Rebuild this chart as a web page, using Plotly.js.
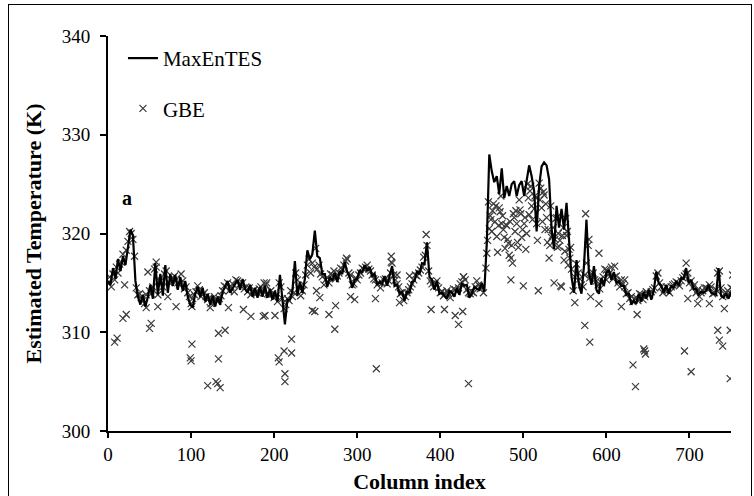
<!DOCTYPE html>
<html>
<head>
<meta charset="utf-8">
<script src="https://cdn.plot.ly/plotly-3.0.1.min.js"></script>
<style>
  html, body { margin: 0; padding: 0; background: #fff; overflow: hidden; }
  #chart { width: 754px; height: 496px; }
  #frame { position: absolute; left: 8px; top: 4px; width: 742px; height: 520px;
           border: 1.5px solid #000; pointer-events: none; }
</style>
</head>
<body>
<div id="chart"></div>
<div id="frame"></div>
<script>
// MaxEnTES estimate, one value every 3 columns starting at column 0
const maxentesStep = 3;
const maxentesK = [
  315.2, 314.8, 316.5, 315.4, 317.4, 316.2, 317.7, 316.8, 318.6, 320.4, 319.8, 315.2, 313.6, 312.8, 313.8, 312.6, 313.6, 314.8, 313.4, 317.0,
  313.8, 315.9, 313.7, 316.8, 314.0, 315.9, 314.7, 315.8, 314.3, 315.6, 314.2, 315.2, 313.6, 312.8, 312.5, 313.9, 314.6, 313.6, 314.5, 313.1,
  313.9, 312.8, 313.7, 312.6, 313.6, 312.8, 314.1, 314.7, 315.2, 314.0, 314.4, 314.9, 315.3, 314.3, 315.4, 314.4, 314.0, 314.8, 313.6, 314.5,
  313.5, 314.6, 313.6, 314.7, 313.5, 314.4, 313.3, 314.2, 313.1, 315.8, 312.9, 310.8, 313.3, 313.3, 314.2, 317.2, 313.7, 315.1, 314.0, 315.4,
  318.3, 317.4, 317.9, 320.3, 317.7, 317.5, 315.9, 315.9, 314.6, 315.6, 315.2, 316.0, 315.1, 316.2, 315.9, 317.1, 316.1, 315.6, 314.5, 315.3,
  315.4, 316.3, 316.0, 316.8, 316.2, 316.6, 315.7, 315.9, 314.8, 315.1, 314.9, 315.7, 314.7, 315.7, 316.7, 314.7, 314.8, 313.9, 314.1, 313.2,
  314.1, 314.0, 315.1, 315.2, 316.2, 315.9, 317.0, 316.9, 319.1, 315.6, 315.3, 314.3, 315.2, 313.9, 314.0, 313.7, 313.4, 314.2, 314.0, 313.6,
  314.5, 313.8, 314.9, 314.7, 314.8, 313.5, 313.9, 314.6, 314.4, 314.3, 315.0, 314.1, 319.0, 328.0, 326.3, 325.2, 325.8, 324.0, 326.6, 323.6,
  324.8, 323.8, 325.0, 325.3, 323.8, 324.9, 325.3, 323.8, 325.6, 326.9, 325.8, 324.3, 320.2, 324.8, 326.8, 327.2, 326.9, 325.5, 320.5, 318.4,
  322.8, 320.6, 322.5, 320.4, 323.1, 319.4, 315.6, 314.0, 317.3, 314.8, 313.9, 316.7, 321.4, 316.0, 314.8, 316.7, 314.3, 313.9, 315.5, 314.7,
  316.0, 316.3, 315.3, 316.1, 315.0, 315.2, 314.7, 314.7, 313.8, 313.9, 312.8, 313.2, 312.9, 313.9, 313.1, 314.1, 313.4, 314.3, 313.3, 314.2,
  316.1, 315.0, 314.7, 314.0, 314.8, 313.9, 314.7, 314.5, 315.2, 314.7, 315.5, 315.4, 316.5, 315.0, 315.3, 314.4, 314.4, 313.8, 314.1, 314.0,
  314.2, 314.8, 314.0, 313.9, 313.8, 316.5, 313.7, 313.5, 313.9, 313.4, 314.1
];
const maxentesCol = maxentesK.map((_, i) => i * maxentesStep);

// GBE estimate, points close to the MaxEnTES curve (left part)
const gbeNearCol = [
  0, 4, 8, 12, 16, 20, 24, 28, 32, 36, 40, 44, 48, 52, 56, 60, 64, 68, 72, 76,
  80, 84, 88, 92, 96, 100, 104, 108, 112, 116, 120, 124, 128, 132, 136, 140, 144, 148, 152, 156,
  160, 164, 168, 172, 176, 180, 184, 188, 192, 196, 200, 204, 208, 212, 216, 220, 224, 228, 232, 236,
  240, 244, 248, 252, 256, 260, 264, 268, 272, 276, 280, 284, 288, 292, 296, 300, 304, 308, 312, 316,
  320, 324, 328, 332, 336, 340, 344, 348, 352, 356, 360, 364, 368, 372, 376, 380, 384, 388, 392, 396,
  400, 404, 408, 412, 416, 420, 424, 428, 432, 436, 440, 444, 448, 452, 455, 456
];
const gbeNearK = [
  315.0, 314.6, 315.3, 316.0, 317.1, 314.8, 319.2, 320.0, 317.7, 313.8, 313.5, 312.9, 316.1, 313.9, 316.4, 313.8, 315.2, 315.9, 313.6, 315.3,
  315.7, 315.0, 315.9, 314.4, 314.0, 312.9, 313.8, 314.7, 313.6, 314.0, 313.3, 312.9, 313.6, 313.1, 313.7, 314.7, 315.0, 314.6, 314.1, 315.2,
  314.9, 314.4, 314.1, 313.8, 314.3, 314.0, 314.6, 315.0, 313.9, 314.2, 313.5, 313.1, 314.6, 312.4, 313.4, 314.2, 314.0, 315.3, 313.7, 314.8,
  316.8, 316.0, 316.6, 316.4, 315.9, 314.8, 315.5, 315.9, 316.2, 315.7, 316.5, 316.8, 317.4, 315.8, 314.9, 315.3, 316.0, 316.4, 316.8, 316.2,
  315.4, 314.8, 314.5, 315.3, 314.9, 316.0, 315.8, 314.9, 313.9, 313.2, 314.0, 314.6, 315.3, 315.7, 316.3, 317.6, 318.8, 315.2, 314.6, 315.2,
  314.0, 313.7, 314.2, 313.5, 314.4, 314.1, 314.9, 315.6, 314.3, 313.9, 314.0, 315.2, 314.4, 314.0, 316.5, 318.0
];
const gbeNear2Col = [
  2, 6, 10, 14, 18, 22, 26, 30, 34, 38, 42, 46, 50, 54, 58, 62, 66, 70, 74, 78,
  82, 86, 90, 94, 98, 102, 106, 110, 114, 118, 122, 126, 130, 134, 138, 142, 146, 150, 154, 158,
  162, 166, 170, 174, 178, 182, 186, 190, 194, 198, 202, 206, 210, 214, 218, 222, 226, 230, 234, 238,
  242, 246, 250, 254, 258, 262, 266, 270, 274, 278, 282, 286, 290, 294, 298, 302, 306, 310, 314, 318,
  322, 326, 330, 334, 338, 342, 346, 350, 354, 358, 362, 366, 370, 374, 378, 382, 386, 390, 394, 398,
  402, 406, 410, 414, 418, 422, 426, 430, 434, 438, 442, 446, 450
];
const gbeNear2K = [
  315.6, 315.9, 316.6, 316.9, 317.9, 318.3, 320.2, 319.4, 314.5, 313.9, 313.2, 313.8, 314.2, 314.6, 316.6, 315.2, 314.6, 316.2, 315.0, 315.5,
  315.3, 314.8, 315.2, 314.6, 313.6, 313.4, 314.1, 314.3, 313.8, 313.6, 313.5, 313.0, 313.3, 313.4, 314.2, 314.6, 314.2, 314.9, 315.3, 314.8,
  315.0, 314.6, 314.5, 314.1, 314.0, 314.4, 314.2, 314.8, 313.8, 313.9, 313.7, 315.0, 313.4, 312.8, 313.2, 313.6, 316.0, 314.5, 314.2, 315.8,
  317.4, 317.0, 318.5, 316.8, 315.6, 315.3, 315.0, 315.8, 315.4, 316.0, 316.4, 317.2, 316.0, 314.8, 315.5, 315.8, 316.5, 316.6, 316.4, 315.8,
  315.3, 315.0, 315.0, 315.4, 315.2, 317.0, 315.3, 314.6, 314.0, 313.6, 314.3, 314.9, 315.8, 316.0, 316.6, 317.8, 316.2, 314.9, 315.0, 314.5,
  314.1, 313.9, 313.9, 314.0, 314.3, 314.5, 315.1, 315.3, 314.0, 314.1, 314.6, 314.8, 314.5
];

// GBE estimate over the warm block (columns ~455-560)
const gbeWarmCol = [
  457, 458, 459, 463, 466, 468, 469, 473, 475, 476, 478, 481, 483, 485, 487, 485, 489, 491, 493, 495,
  499, 500, 501, 503, 505, 508, 510, 513, 518, 519, 521, 523, 526, 529, 531, 537, 545, 533, 543, 549,
  461, 471, 479, 497, 507, 515, 525, 535, 539, 553, 557,
  460, 462, 464, 467, 470, 472, 474, 477, 480, 482, 484, 486, 488, 490, 492, 494, 496, 498, 502, 504,
  506, 509, 511, 514, 516, 517, 520, 522, 524, 527, 528, 530, 532, 534, 536, 538, 540, 541, 542, 547,
  548, 550, 551, 552, 554, 555, 558
];
const gbeWarmK = [
  319.3, 323.2, 320.5, 322.3, 321.2, 319.7, 318.1, 323.8, 321.8, 320.4, 318.5, 319.4, 317.8, 317.5, 317.0, 315.3, 321.6, 322.3, 319.1, 323.4,
  320.4, 314.7, 321.0, 318.4, 325.0, 324.3, 322.8, 322.5, 314.2, 325.1, 324.6, 321.2, 320.4, 319.1, 317.5, 315.0, 314.7, 322.8, 318.7, 317.3,
  321.4, 322.6, 320.9, 322.0, 321.9, 323.6, 323.9, 319.8, 321.5, 320.2, 318.6,
  321.8, 320.2, 323.0, 322.8, 320.8, 322.2, 321.0, 319.6, 320.8, 319.0, 321.2, 318.8, 322.0, 320.2, 321.0, 318.6, 322.4, 319.6, 321.6, 320.0,
  323.6, 324.8, 321.4, 323.8, 321.0, 319.3, 323.4, 322.6, 324.2, 323.0, 321.6, 320.4, 318.8, 319.6, 320.6, 319.4, 321.6, 318.6, 320.0, 319.8,
  320.6, 318.2, 321.5, 319.8, 316.8, 318.4, 316.4
];

// GBE estimate, points close to the MaxEnTES curve (right part)
const gbeRightCol = [
  560, 564, 568, 572, 576, 580, 584, 588, 592, 596, 600, 604, 608, 612, 616, 620, 624, 628, 632, 636,
  640, 644, 648, 652, 656, 660, 664, 668, 672, 676, 680, 684, 688, 692, 696, 700, 704, 708, 712, 716,
  720, 724, 728, 732, 736, 740, 744, 748, 752,
  562, 566, 570, 574, 578, 582, 586, 590, 594, 598, 602, 606, 610, 614, 618, 622, 626, 630, 634, 638,
  642, 646, 650, 654, 658, 662, 666, 670, 674, 678, 682, 686, 690, 694, 698, 702, 706, 710, 714, 718,
  722, 726, 730, 734, 738, 742, 746, 750
];
const gbeRightK = [
  314.2, 316.9, 315.4, 314.6, 317.0, 315.5, 316.0, 315.2, 314.4, 315.6, 315.3, 316.0, 315.4, 315.7, 314.6, 314.9, 313.9, 313.4, 313.1, 313.5,
  313.9, 313.3, 314.1, 313.8, 314.3, 315.7, 315.0, 314.0, 314.6, 314.0, 314.8, 315.1, 314.7, 315.5, 315.9, 315.0, 314.5, 314.0, 313.6, 314.2,
  314.5, 314.8, 313.9, 314.3, 316.2, 313.6, 314.0, 313.8, 314.4,
  315.6, 316.0, 314.8, 315.8, 318.8, 315.9, 315.3, 314.8, 315.0, 316.4, 315.8, 316.6, 315.6, 315.0, 315.3, 314.6, 314.0, 313.6, 313.4, 313.2,
  313.8, 313.6, 313.9, 314.1, 314.5, 316.0, 314.6, 314.3, 314.2, 314.6, 314.9, 315.0, 315.2, 315.7, 316.0, 315.2, 314.8, 314.3, 314.0, 314.5,
  314.4, 314.6, 314.0, 316.0, 314.5, 313.9, 314.2, 314.5
];

// GBE estimate, columns where it falls well away from the curve
const gbeOffCol = [
  8, 11, 18, 22, 46, 50, 52, 58, 60, 82, 99, 100, 101, 101, 120, 123, 130, 132, 133, 133,
  135, 141, 145, 163, 172, 187, 189, 191, 201, 205, 206, 212, 213, 213, 221, 221, 246, 249, 251, 255,
  266, 273, 274, 287, 292, 297, 322, 323, 341, 341, 348, 351, 363, 383, 389, 405, 418, 422, 427, 428,
  434, 544, 546, 556, 562, 574, 575, 579, 580, 581, 591, 591, 600, 610, 618, 622, 632, 635, 637, 645,
  646, 647, 694, 696, 698, 702, 710, 724, 734, 736, 740, 742, 749, 749, 752
];
const gbeOffK = [
  309.0, 309.4, 311.4, 311.8, 312.5, 310.4, 310.9, 317.1, 312.6, 312.6, 307.4, 307.1, 308.8, 312.6, 304.6, 312.5, 305.0, 304.8, 309.9, 307.3,
  304.4, 310.2, 312.5, 312.3, 311.6, 311.6, 311.7, 315.0, 311.7, 307.4, 307.0, 308.1, 305.8, 305.0, 309.3, 307.9, 312.2, 312.1, 314.2, 313.5,
  311.8, 310.3, 312.7, 317.5, 313.6, 313.3, 313.4, 306.3, 317.7, 317.1, 315.8, 313.0, 315.7, 319.9, 312.3, 312.3, 311.7, 310.8, 312.1, 315.6,
  304.8, 319.3, 314.6, 317.5, 313.0, 310.7, 322.0, 319.4, 309.0, 313.6, 312.9, 318.0, 316.3, 316.7, 312.6, 315.3, 306.7, 304.5, 311.8, 308.3,
  308.1, 307.8, 308.1, 317.0, 313.4, 306.0, 312.9, 312.9, 310.2, 309.2, 308.6, 312.4, 310.2, 305.3, 315.8
];

const gbeCol = [].concat(gbeNearCol, gbeNear2Col, gbeWarmCol, gbeRightCol, gbeOffCol);
const gbeK = [].concat(gbeNearK, gbeNear2K, gbeWarmK, gbeRightK, gbeOffK);

const serif = '"Liberation Serif", "Times New Roman", serif';

const traces = [
  {
    name: 'GBE',
    x: gbeCol,
    y: gbeK,
    type: 'scatter',
    mode: 'markers',
    marker: { symbol: 'x-thin-open', size: 7, color: '#3a3a3a', line: { width: 1.2, color: '#3a3a3a' } },
    legendrank: 2,
    legendgroup: 'g2'
  },
  {
    name: 'MaxEnTES',
    x: maxentesCol,
    y: maxentesK,
    type: 'scatter',
    mode: 'lines',
    line: { color: '#000', width: 2.2 },
    legendrank: 1,
    legendgroup: 'g1'
  }
];

const layout = {
  width: 754,
  height: 496,
  margin: { l: 108, r: 23, t: 36, b: 65 },
  paper_bgcolor: '#fff',
  plot_bgcolor: '#fff',
  font: { family: serif, color: '#000', size: 19 },
  showlegend: true,
  legend: {
    x: 0.024, y: 0.995, xanchor: 'left', yanchor: 'top',
    bgcolor: 'rgba(0,0,0,0)',
    font: { family: serif, size: 21, color: '#000' },
    itemwidth: 30,
    traceorder: 'grouped',
    tracegroupgap: 20
  },
  xaxis: {
    range: [0, 750],
    tickvals: [0, 100, 200, 300, 400, 500, 600, 700],
    ticks: 'outside', ticklen: 5, tickwidth: 2, tickcolor: '#000',
    showline: true, linecolor: '#000', linewidth: 2,
    showgrid: false, zeroline: false,
    tickfont: { family: serif, size: 19, color: '#000' },
    title: { text: '<b>Column index</b>', font: { family: serif, size: 22, color: '#000' }, standoff: 10 }
  },
  yaxis: {
    range: [300, 340],
    tickvals: [300, 310, 320, 330, 340],
    ticks: 'outside', ticklen: 6, tickwidth: 2, tickcolor: '#000',
    showline: true, linecolor: '#000', linewidth: 2,
    showgrid: false, zeroline: false,
    tickfont: { family: serif, size: 19, color: '#000' },
    ticklabelstandoff: 6,
    title: { text: '<b>Estimated Temperature (K)</b>', font: { family: serif, size: 22, color: '#000' }, standoff: 14 }
  },
  annotations: [
    { x: 22.6, y: 323.6, xref: 'x', yref: 'y', text: '<b>a</b>', showarrow: false,
      font: { family: serif, size: 20, color: '#000' } }
  ]
};

Plotly.newPlot('chart', traces, layout, { displayModeBar: false, staticPlot: true });
</script>
</body>
</html>
